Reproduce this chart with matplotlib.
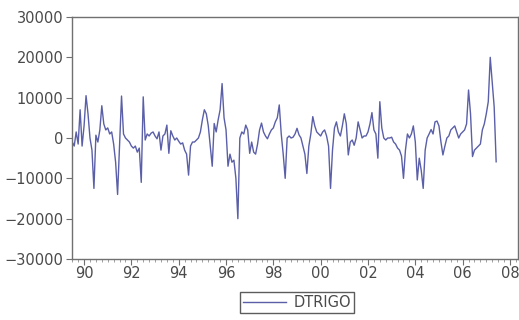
import numpy as np
import matplotlib
matplotlib.use('Agg')
import matplotlib.pyplot as plt
from matplotlib.ticker import MultipleLocator, FuncFormatter

# monthly DTRIGO, starting 1989M07
start_year = 1989.5
dtrigo = [
    -1000, -2000, 1500, -1500, 7000, -2000, 3000, 10500, 6000, 0, -3000, -12500,
    700, -1000, 2000, 8000, 3500, 2000, 2500, 1000, 1500, -1500, -6000, -14000,
    -2000, 10400, 1000, 0, -500, -1000, -2000, -2500, -2000, -3500, -2500, -11000,
    10200, -500, 1000, 500, 1200, 1500, 500, -200, 1500, -3000, 500, 1000,
    3200, -3800, 1800, 500, -500, 0, -800, -1500, -1200, -3000, -4000, -9200,
    -2000, -1000, -1000, -500, 0, 1500, 4500, 7000, 6000, 3000, -2000, -7000,
    3600, 1500, 4500, 7000, 13500, 5000, 2000, -7000, -4000, -6000, -5500, -10000,
    -20000, 0, 1500, 1000, 3200, 2000, -3800, -1000, -3500, -4000, -1500, 2000,
    3700, 1500, 500, -200, 1000, 2000, 2500, 4000, 5000, 8200, 1000, -4000,
    -10000, 0, 500, 0, 200, 1000, 2400, 800, 0, -2000, -4000, -8800,
    -2000, 1000, 5300, 3000, 1500, 1000, 500, 1500, 2000, 500, -2000, -12500,
    -3000, 2500, 4000, 1500, 500, 3000, 6000, 3500, -4200, -1000, -500, -1800,
    0, 4000, 2000, 0, 500, 500, 1500, 3500, 6300, 2000, 1000, -5000,
    9000, 2500, 0, -500, 0, 0, 200, -1000, -1500, -2500, -3000, -4500,
    -10000, -3000, 1000, 0, 1000, 3000, -1000, -10400, -5000, -8000, -12500, -3000,
    0, 1000, 2100, 1000, 4000, 4200, 3000, -1000, -4200, -2000, 0, 500,
    2000, 2500, 3000, 1500, 0, 1000, 1500, 2000, 3500, 11900, 6000, -4600,
    -3000, -2500, -2000, -1500, 2000, 3500, 6000, 9000, 20000, 14000, 7700, -5900,
]
t = start_year + np.arange(len(dtrigo)) / 12.0

plt.rcParams['font.family'] = ['DejaVu Sans']
fig = plt.figure(figsize=(5.19, 3.2), dpi=100)
ax = fig.add_axes([72/519, 1 - 259/320, (518 - 72)/519, (259 - 17)/320])

ax.plot(t, dtrigo, color='#5a5fa8', lw=1.0, label='DTRIGO')

ax.set_xlim(1989.49, 2008.34)
ax.set_ylim(-30000, 30000)
ax.yaxis.set_major_locator(MultipleLocator(10000))
ax.xaxis.set_major_locator(MultipleLocator(2))
ax.xaxis.set_minor_locator(MultipleLocator(0.25))
ax.xaxis.set_major_formatter(FuncFormatter(lambda v, p: '%02d' % (int(round(v)) % 100)))

for s in ax.spines.values():
    s.set_color('#707070')
    s.set_linewidth(1.0)
ax.tick_params(axis='both', colors='#707070', labelcolor='#4a4a4a', labelsize=10.5)
ax.tick_params(axis='y', length=4, pad=2)
ax.tick_params(axis='x', which='major', length=4, pad=1)
ax.tick_params(axis='x', which='minor', length=2, color='#909090')

fig.legend(loc='upper center', bbox_to_anchor=(297/519, 1 - 292/320), ncol=1,
           frameon=True, fancybox=False, edgecolor='#333333', fontsize=10.5,
           handlelength=3.0, borderpad=0.2, handletextpad=0.5, borderaxespad=0,
           labelcolor='#4a4a4a')

fig.savefig('out.png', dpi=100)
